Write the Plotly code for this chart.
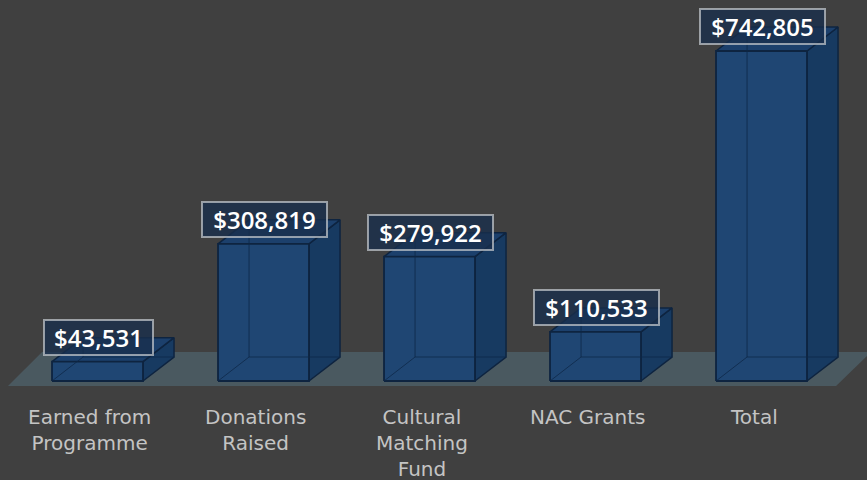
import plotly.graph_objects as go

categories = ["Earned from<br>Programme", "Donations<br>Raised", "Cultural<br>Matching<br>Fund", "NAC Grants", "Total"]
values = [43531, 308819, 279922, 110533, 742805]
value_labels = ["$43,531", "$308,819", "$279,922", "$110,533", "$742,805"]

# geometry / style constants (data units)
HALF_W = 0.274
DX = 0.187
DY = 54000
BG = "#404040"
FRONT = "#1f4673"
SIDE = "#173a61"
TOP = "#1c406c"
EDGE = "#0e2440"

fig = go.Figure()

# floor
fig.add_trace(go.Scatter(
    x=[-0.539, 4.449, 4.66, -0.334, -0.539],
    y=[-11250, -11250, 65270, 65270, -11250],
    fill="toself", fillcolor="#4a5960", line=dict(width=0),
    mode="lines", hoverinfo="skip", showlegend=False))

for i, v in enumerate(values):
    x0, x1 = i - HALF_W, i + HALF_W
    # right side face
    fig.add_trace(go.Scatter(
        x=[x1, x1 + DX, x1 + DX, x1, x1], y=[0, DY, v + DY, v, 0],
        fill="toself", fillcolor=SIDE, line=dict(color=EDGE, width=1.5),
        mode="lines", hoverinfo="skip", showlegend=False))
    # top face
    fig.add_trace(go.Scatter(
        x=[x0, x1, x1 + DX, x0 + DX, x0], y=[v, v, v + DY, v + DY, v],
        fill="toself", fillcolor=TOP, line=dict(color=EDGE, width=1.5),
        mode="lines", hoverinfo="skip", showlegend=False))
    # front face
    fig.add_trace(go.Scatter(
        x=[x0, x1, x1, x0, x0], y=[0, 0, v, v, 0],
        fill="toself", fillcolor=FRONT, line=dict(color=EDGE, width=1.8),
        mode="lines", hoverinfo="skip", showlegend=False))
    # faint hidden back edges (transparency effect)
    fig.add_trace(go.Scatter(
        x=[x0, x0 + DX, x0 + DX, None, x0 + DX, x1 + DX],
        y=[0, DY, v + DY, None, DY, DY],
        mode="lines", line=dict(color="rgba(14,40,72,0.8)", width=1),
        hoverinfo="skip", showlegend=False))
    # value label
    fig.add_annotation(
        x=i, y=v, xref="x", yref="y", text=value_labels[i], showarrow=False,
        yanchor="middle", yshift=24, xshift=1,
        font=dict(family="Open Sans", size=24, color="white", weight=600),
        bgcolor="rgba(24,46,76,0.78)", bordercolor="rgba(190,195,200,0.75)",
        borderwidth=2, borderpad=0, width=16 * len(value_labels[i]) - 5)
    # category label
    fig.add_annotation(
        x=i, y=0, xref="x", yref="y", text=categories[i], showarrow=False,
        yanchor="top", yshift=-22, xshift=-8,
        font=dict(family="DejaVu Sans", size=20, color="#c4c4c4"))

fig.update_layout(
    width=867, height=480,
    margin=dict(l=0, r=0, t=0, b=0),
    paper_bgcolor=BG, plot_bgcolor=BG,
    xaxis=dict(range=[-0.5873, 4.6355], visible=False, fixedrange=True),
    yaxis=dict(range=[-222830, 857550], visible=False, fixedrange=True),
)

fig.write_html("out.html", config={"displayModeBar": False},
               post_script="document.body.style.margin='0';document.body.style.background='#404040';")
